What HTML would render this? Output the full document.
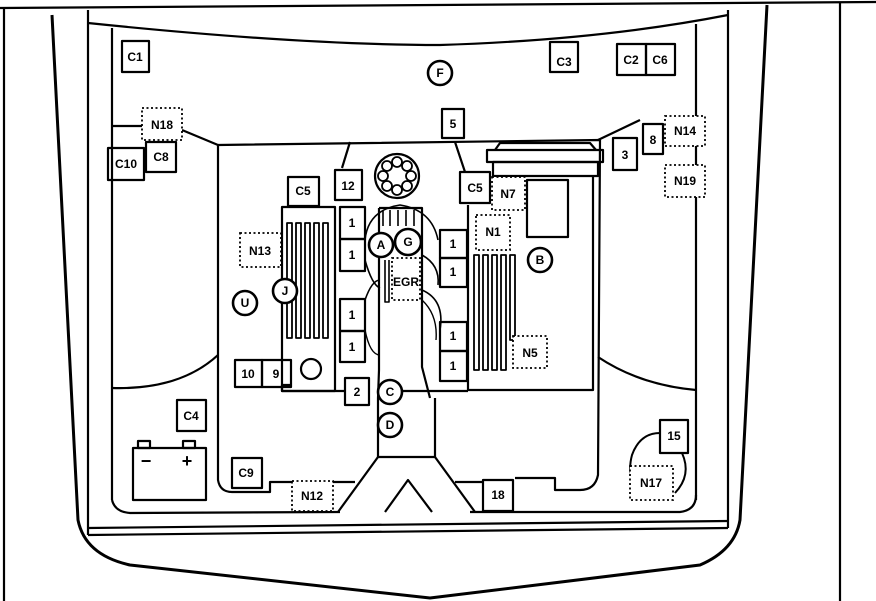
<!DOCTYPE html>
<html><head><meta charset="utf-8"><style>
html,body{margin:0;padding:0;background:#fff;}
svg{display:block}
text{font-family:"Liberation Sans",sans-serif;font-weight:bold;font-size:12px;text-anchor:middle;dominant-baseline:central;fill:#000}
</style></head><body>
<svg width="876" height="601" viewBox="0 0 876 601" xmlns="http://www.w3.org/2000/svg">
<g fill="none" stroke="#000" stroke-width="2.2" stroke-linejoin="round">
<line x1="0" y1="8" x2="876" y2="2"/>
<line x1="4" y1="8" x2="4" y2="601"/>
<line x1="840" y1="2" x2="840" y2="601"/>
<path d="M52,15 L78,520 Q85,555 130,565 L430,598 L700,565 Q735,550 740,520 L767,5" stroke-width="3"/>
<path d="M88,10 L88,535 M728,10 L728,528"/>
<line x1="88" y1="528" x2="728" y2="521"/>
<line x1="88" y1="535" x2="728" y2="528"/>
<path d="M88,23 Q300,45 440,45 Q600,40 728,15"/>
<line x1="112" y1="28" x2="112" y2="500"/>
<line x1="696" y1="24" x2="696" y2="500"/>
<path d="M112,126 L142,126"/>
<path d="M182,130 L218,145"/>
<path d="M598,140 L640,120"/>
<path d="M112,388 Q180,390 218,355"/>
<path d="M598,357 Q640,385 696,390"/>
<path d="M112,500 Q115,512 130,513 L340,512"/>
<path d="M470,512 L680,512 Q696,510 696,495"/>
<path d="M218,145 L600,140 L598,475 Q595,490 580,490 L555,490 L555,478 L515,478"/>
<path d="M218,145 L218,480 Q220,492 232,492 L270,492 L270,482 L292,482"/>
<path d="M333,482 L355,482"/>
<path d="M455,482 L483,482"/>
<path d="M350,142 L342,168"/>
<path d="M455,142 L465,172"/>
<rect x="122" y="41" width="27" height="31"/>
<rect x="550" y="42" width="28" height="30"/>
<rect x="617" y="44" width="29" height="31"/>
<rect x="646" y="44" width="29" height="31"/>
<rect x="108" y="148" width="36" height="32"/>
<rect x="146" y="142" width="30" height="30"/>
<rect x="442" y="109" width="22" height="29"/>
<rect x="643" y="124" width="20" height="30"/>
<rect x="613" y="138" width="24" height="32"/>
<rect x="288" y="177" width="31" height="29"/>
<rect x="335" y="170" width="27" height="30"/>
<rect x="460" y="172" width="30" height="31"/>
<rect x="487" y="150" width="116" height="12"/>
<rect x="493" y="162" width="105" height="14"/>
<path d="M495,150 L500,143 L590,143 L596,150"/>
<path d="M593,176 L593,390 L522,390"/>
<rect x="527" y="180" width="41" height="57"/>
<circle cx="397" cy="176" r="22"/>
<g stroke-width="1.8"><circle cx="397" cy="162" r="5"/><circle cx="407" cy="166" r="5"/><circle cx="411" cy="176" r="5"/><circle cx="407" cy="186" r="5"/><circle cx="397" cy="190" r="5"/><circle cx="387" cy="186" r="5"/><circle cx="383" cy="176" r="5"/><circle cx="387" cy="166" r="5"/></g>
<rect x="282" y="207" width="53" height="184"/>
<g stroke-width="1.8">
<rect x="287" y="223" width="5" height="115"/><rect x="296" y="223" width="5" height="115"/><rect x="305" y="223" width="5" height="115"/><rect x="314" y="223" width="5" height="115"/><rect x="323" y="223" width="5" height="115"/>
</g>
<rect x="340" y="207" width="25" height="32"/>
<rect x="340" y="239" width="25" height="32"/>
<rect x="340" y="299" width="25" height="32"/>
<rect x="340" y="331" width="25" height="31"/>
<path d="M379,208 L422,208 L422,367 L430,398 M379,208 L379,370 L378,398"/>
<path d="M383,210 L383,226 M390,210 L390,226 M398,210 L398,226 M406,210 L406,226 M414,210 L414,226" stroke-width="1.6"/>
<path d="M385,260 L385,302 L389,302 L389,260" stroke-width="1.6"/>
<path d="M365,240 Q368,210 400,205 Q432,210 438,240" stroke-width="1.6"/>
<path d="M365,260 Q372,285 380,288" stroke-width="1.6"/>
<path d="M422,255 Q440,265 438,285" stroke-width="1.6"/>
<path d="M365,300 Q372,280 380,280" stroke-width="1.6"/>
<path d="M422,290 Q445,300 440,330" stroke-width="1.6"/>
<path d="M365,330 Q370,355 380,355 M422,300 Q438,315 436,340" stroke-width="1.4"/>
<rect x="440" y="230" width="27" height="28"/>
<rect x="440" y="258" width="27" height="29"/>
<rect x="440" y="322" width="27" height="29"/>
<rect x="440" y="351" width="27" height="30"/>
<path d="M468,205 L468,390 L522,390"/>
<g stroke-width="1.8">
<rect x="474" y="255" width="5" height="115"/><rect x="483" y="255" width="5" height="115"/><rect x="492" y="255" width="5" height="115"/><rect x="501" y="255" width="5" height="115"/><rect x="510" y="255" width="5" height="85"/>
</g>
<rect x="235" y="360" width="27" height="27"/>
<rect x="262" y="360" width="29" height="27"/>
<circle cx="311" cy="369" r="10"/>
<path d="M291,385 L282,385 L282,391 L335,391"/>
<rect x="345" y="378" width="24" height="27"/>
<path d="M335,391 L345,391 M403,391 L468,391"/>
<path d="M378,398 L378,457 L435,457 L435,398"/>
<path d="M378,457 L338,512 M435,457 L475,512"/>
<path d="M385,512 L408,480 L432,512"/>
<rect x="483" y="480" width="30" height="31"/>
<rect x="232" y="458" width="30" height="30"/>
<rect x="177" y="400" width="29" height="31"/>
<rect x="133" y="448" width="73" height="52"/>
<rect x="138" y="441" width="12" height="7"/>
<rect x="183" y="441" width="12" height="7"/>
<rect x="660" y="420" width="28" height="33"/>
<path d="M660,433 Q640,433 632,455 Q628,470 633,480" stroke-width="2"/>
<path d="M682,453 Q692,475 675,493" stroke-width="2"/>
</g>
<g fill="#fff" stroke="#000" stroke-width="1.8" stroke-dasharray="2,2.5">
<rect x="142" y="108" width="40" height="32"/>
<rect x="665" y="116" width="40" height="30"/>
<rect x="665" y="165" width="40" height="32"/>
<rect x="492" y="177" width="33" height="33"/>
<rect x="476" y="215" width="34" height="35"/>
<rect x="240" y="233" width="41" height="34"/>
<rect x="392" y="258" width="28" height="42"/>
<rect x="513" y="336" width="34" height="32"/>
<rect x="292" y="481" width="41" height="30"/>
<rect x="630" y="466" width="43" height="34"/>
</g>
<g fill="#fff" stroke="#000" stroke-width="2.6">
<circle cx="440" cy="73" r="12"/>
<circle cx="381" cy="245" r="12"/>
<circle cx="408" cy="242" r="13"/>
<circle cx="540" cy="260" r="12"/>
<circle cx="285" cy="291" r="12"/>
<circle cx="245" cy="303" r="12"/>
<circle cx="390" cy="392" r="12"/>
<circle cx="390" cy="425" r="12"/>
</g>
<text x="135" y="57">C1</text><text x="564" y="62">C3</text><text x="631" y="60">C2</text><text x="660" y="60">C6</text>
<text x="440" y="73">F</text><text x="162" y="125">N18</text><text x="126" y="164">C10</text><text x="161" y="157">C8</text>
<text x="453" y="124">5</text><text x="685" y="131">N14</text><text x="653" y="140">8</text><text x="625" y="155">3</text><text x="685" y="181">N19</text>
<text x="303" y="191">C5</text><text x="348" y="186">12</text><text x="475" y="188">C5</text><text x="508" y="194">N7</text>
<text x="493" y="232">N1</text><text x="260" y="251">N13</text>
<text x="352" y="223">1</text><text x="352" y="255">1</text><text x="352" y="315">1</text><text x="352" y="347">1</text>
<text x="453" y="244">1</text><text x="453" y="272">1</text><text x="453" y="336">1</text><text x="453" y="366">1</text>
<text x="381" y="245">A</text><text x="408" y="242">G</text><text x="406" y="282">EGR</text>
<text x="540" y="260">B</text><text x="285" y="291">J</text><text x="245" y="303">U</text><text x="530" y="353">N5</text>
<text x="248" y="374">10</text><text x="276" y="374">9</text><text x="357" y="392">2</text>
<text x="390" y="392">C</text><text x="390" y="425">D</text><text x="191" y="416">C4</text>
<text x="246" y="473">C9</text><text x="312" y="496">N12</text><text x="498" y="495">18</text>
<text x="674" y="436">15</text><text x="651" y="483">N17</text>
<text x="146" y="461" style="font-size:18px">−</text><text x="187" y="461" style="font-size:18px">+</text>
</svg>
</body></html>
